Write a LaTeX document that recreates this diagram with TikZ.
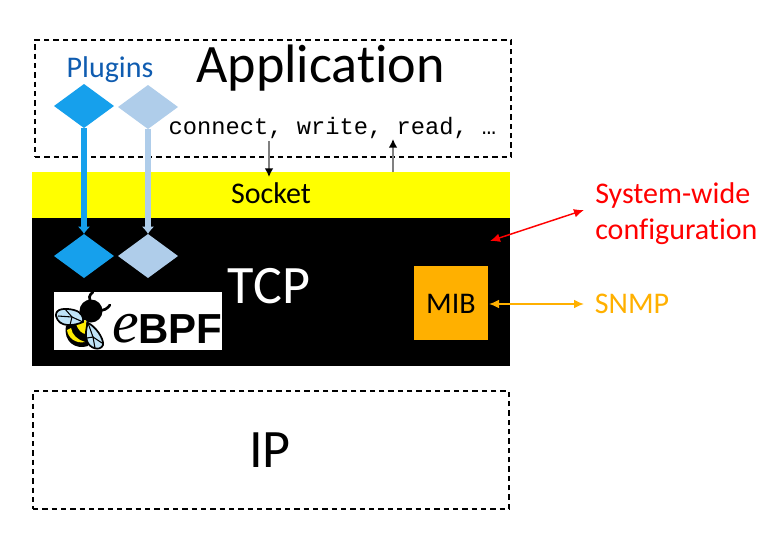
\documentclass[tikz,border=0pt]{standalone}
\usepackage{fontspec}
\setmainfont[RawFeature={-liga;-clig;-calt}]{Carlito}
\setmonofont{Liberation Mono}
\newfontfamily\logofont{Liberation Sans}
\newfontfamily\logoefont{Liberation Serif}
\usetikzlibrary{arrows.meta, positioning, shapes.geometric}
\definecolor{pluginblue}{HTML}{16A0EC}
\definecolor{pluginlight}{HTML}{AFCDEA}
\definecolor{labelblue}{HTML}{0F5CB0}
\definecolor{mibamber}{HTML}{FFB000}
\definecolor{socketyellow}{RGB}{255,255,0}
\definecolor{wingblue}{HTML}{BFE3F7}
\tikzset{
  layer/.style={rectangle,outer sep=0pt,inner sep=0pt,minimum width=358.5pt},
  dashbox/.style={rectangle,draw,dashed,line width=1pt,dash pattern=on 4pt off 3pt,outer sep=0pt,inner sep=0pt,minimum width=357pt},
  plugin/.style={diamond,inner sep=0pt,outer sep=0pt,minimum width=45pt,minimum height=33pt},
  big/.style={font=\fontsize{40.6}{44}\selectfont,anchor=base},
  mid/.style={font=\fontsize{22.5}{27}\selectfont,anchor=base},
  line/.style={-{Latex[black,length=6.5pt,width=6.5pt]},line width=1.1pt,gray},
  hook/.style={-{Latex[length=5.5pt,width=9.5pt]},line width=4.1pt},
  both/.style={{Latex[length=7.5pt,width=6.5pt]}-{Latex[length=7.5pt,width=6.5pt]},line width=1.1pt},
  wing/.style={line width=1.3pt,fill=wingblue}
}

\begin{document}
\begin{tikzpicture}[x=0.75pt,y=-0.75pt]
\useasboundingbox (0,0) rectangle (780,546);
\node[dashbox, minimum height=87.75pt] (app) at (273,98.5) {};
\node[layer, fill=socketyellow, minimum height=34.5pt] (socket) at (271,195) {};
\node[layer, fill=black, minimum height=111pt] (tcp) at (271,292) {};
\node[dashbox, minimum height=88.5pt] (ip) at (271,450) {};
% layer labels
\node[big] (apptext) at (320.5,82) {Application};
\node[mid] (sockettext) at (271,203) {Socket};
\node[big, text=white] (tcptext) at (269,303) {TCP};
\node[big] (iptext) at (270,467) {IP};
\node[mid, text=labelblue] (plugintext) at (110,77) {Plugins};
\node[anchor=base, font=\ttfamily\fontsize{17.8}{20}\selectfont] (calls) at (332.5,134) {connect, write, read, …};
% plugins
\node[plugin, fill=pluginblue] (pa) at (84,106) {};
\node[plugin, fill=pluginlight] (pb) at (148,107) {};
\node[plugin, fill=pluginblue] (pc) at (84,256) {};
\node[plugin, fill=pluginlight] (pd) at (148,256) {};
\draw[hook, pluginblue] (pa.south) -- (pc.north);
\draw[hook, pluginlight] (pb.south) -- (pd.north);
% calls
\coordinate (down) at (269,141);
\coordinate (downend) at (269,177);
\coordinate (upstart) at (393,172);
\coordinate (up) at (393,139);
\draw[line] (down) -- (downend);
\draw[line] (upstart) -- (up);
% management
\node[rectangle, fill=mibamber, outer sep=0pt, inner sep=0pt, minimum size=55.5pt] (mib) at (451,303) {};
\node[mid] (mibtext) at (451,313) {MIB};
\node[mid, text=mibamber] (snmp) at (632,313) {SNMP};
\node[align=left, anchor=west, inner sep=0pt, font=\fontsize{22.5}{27}\selectfont, text=red] (config) at (595,214) {System-wide\\configuration};
\coordinate (cfgin) at (490,241);
\coordinate (cfgout) at (584,210);
\coordinate (snmpout) at (584,304);
\coordinate (snmpin) at (489,304);
\draw[both, red] (cfgin) -- (cfgout);
\draw[both, mibamber] (snmpin) -- (snmpout);
% logo
\node[rectangle, fill=white, outer sep=0pt, inner sep=0pt, minimum width=126pt, minimum height=43.5pt] (logo) at (138,321) {};
\node[anchor=base west, inner sep=0pt, font=\logofont\bfseries\fontsize{31.5}{32}\selectfont] (bpf) at (138,343) {BPF};
\node[anchor=base west, inner sep=0pt, font=\logoefont\itshape\fontsize{45}{45}\selectfont] (etext) at (112,342) {e};
\draw[line width=2pt, line cap=round] (92,304) .. controls (88,298) and (89,295) .. (93,292);
\draw[line width=2pt, line cap=round] (98,310) .. controls (104,311) and (107,309) .. (110,305);
\fill[black] (91,311) circle (11.5);
\fill[black] (66,326) .. controls (63,342) and (76,350) .. (88,346) -- (88,322) -- cycle;
\fill[socketyellow!85!orange] (67,330) .. controls (68,338) and (76,344) .. (85,342) .. controls (78,340) and (72,335) .. (71,328) -- cycle;
\fill[socketyellow!85!orange] (76,324) -- (86,320) -- (86,334) .. controls (82,334) and (78,330) .. (76,324) -- cycle;
\draw[wing] (56,316) .. controls (55,308) and (66,308) .. (74,310) .. controls (82,312) and (84,318) .. (83,322) .. controls (74,326) and (59,328) .. (56,316) -- cycle;
\draw[line width=.8pt] (58,316) -- (72,317) -- (83,322);
\draw[line width=.8pt] (65,309) -- (72,317) -- (70,325);
\draw[wing] (88,323) .. controls (95,326) and (104,338) .. (103,345) .. controls (100,352) and (89,348) .. (87,341) .. controls (85,335) and (86,328) .. (88,323) -- cycle;
\draw[line width=.8pt] (88,323) -- (93,337) -- (102,343);
\draw[line width=.8pt] (87,338) -- (93,337) -- (95,348);
\end{tikzpicture}
\end{document}
